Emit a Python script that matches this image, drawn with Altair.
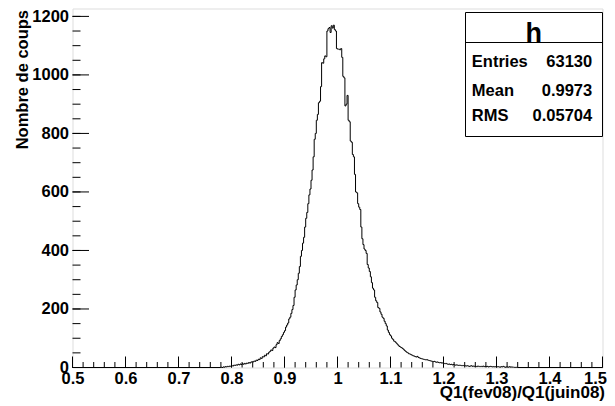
import altair as alt
import pandas as pd

# ---------------- data ----------------
bin_start = 0.78
bin_width = 0.002
counts = [
    1, 0, 2, 1, 3, 2, 4, 3, 5, 4,                 # 0.78
    6, 5, 8, 7, 9, 8, 11, 9, 12, 10,              # 0.80
    13, 11, 14, 12, 15, 14, 17, 15, 18, 20,       # 0.82
    19, 22, 21, 25, 24, 28, 27, 33, 31, 37,       # 0.84
    36, 42, 40, 47, 46, 52, 55, 60, 58, 66,       # 0.86
    70, 68, 78, 85, 82, 92, 98, 106, 112, 120,    # 0.88
    126, 138, 145, 152, 166, 172, 185, 198, 212, 240,   # 0.90
    265, 282, 300, 322, 345, 380, 400, 425, 445, 480,   # 0.92
    510, 530, 560, 590, 610, 640, 675, 720, 780, 800,   # 0.94
    845, 865, 905, 910, 960, 1042, 1040, 1055, 1065, 1062,   # 0.96
    1150, 1158, 1162, 1145, 1168, 1160, 1170, 1155, 1150, 1090,  # 0.98
    1088, 1088, 1086, 1090, 1060, 995, 990, 894, 900, 930,   # 1.00
    845, 840, 774, 770, 728, 720, 660, 600, 597, 560,   # 1.02
    548, 540, 480, 440, 420, 405, 400, 390, 352, 340,   # 1.04
    328, 310, 290, 271, 265, 240, 228, 222, 205, 202,   # 1.06
    190, 182, 172, 168, 158, 150, 142, 128, 120, 112,   # 1.08
    108, 100, 96, 90, 88, 84, 80, 76, 72, 70,     # 1.10
    68, 65, 62, 58, 55, 52, 50, 47, 46, 44,       # 1.12
    42, 40, 39, 37, 36, 38, 34, 33, 31, 30,       # 1.14
    29, 28, 27, 26, 27, 25, 24, 23, 22, 21,       # 1.16
    20, 21, 19, 18, 19, 17, 16, 17, 15, 16,       # 1.18
    14, 13, 14, 12, 11, 12, 10, 11, 9, 10,        # 1.20
    9, 8, 9, 8, 7, 8, 7, 6, 7, 6,                 # 1.22
    6, 5, 6, 5, 4, 5, 6, 4, 5, 4,                 # 1.24
    4, 3, 5, 4, 3, 4, 3, 5, 3, 4,                 # 1.26
    3, 4, 2, 3, 4, 3, 2, 3, 2, 3,                 # 1.28
    2, 3, 2, 1, 3, 2, 4, 2, 1, 2,                 # 1.30
    2, 1, 3, 1, 2, 1, 1, 0, 1, 0,                 # 1.32
]
x_range = [0.5, 1.5]
y_max = 1227
x_major = [0.5, 0.6, 0.7, 0.8, 0.9, 1.0, 1.1, 1.2, 1.3, 1.4, 1.5]
y_major = [0, 200, 400, 600, 800, 1000, 1200]
x_minor_step = 0.02
y_minor_step = 50
hist_name = "h"
stat_names = ["Entries", "Mean", "RMS"]
stat_values = ["63130", "0.9973", "0.05704"]
x_title = "Q1(fev08)/Q1(juin08)"
y_title = "Nombre de coups"

# ---------------- layout ----------------
W, H = 530, 359
FONT = "Liberation Sans"

edges = [round(bin_start + i * bin_width, 4) for i in range(len(counts) + 1)]
rows = [{"x": x_range[0], "n": 0}]
rows += [{"x": edges[i], "n": c} for i, c in enumerate(counts)]
rows += [{"x": edges[-1], "n": 0}, {"x": x_range[1], "n": 0}]
hist_df = pd.DataFrame(rows)

x_minor = [round(x_range[0] + x_minor_step * i, 3)
           for i in range(int(round((x_range[1] - x_range[0]) / x_minor_step)) + 1)]
y_minor = [y_minor_step * i for i in range(int(y_max // y_minor_step) + 1)]

xs = alt.Scale(domain=x_range, nice=False, zero=False)
ys = alt.Scale(domain=[0, y_max], nice=False, zero=True)

last_x = x_major[-1]
x_axis = alt.Axis(
    values=x_major, format=".1~f", title=x_title,
    grid=False, domain=False, ticks=False, tickSize=0,
    labelFont=FONT, labelFontSize=16.5, labelFontWeight="bold", labelColor="black",
    labelBaseline="alphabetic", labelPadding=16, labelFlush=False, labelOverlap=False,
    labelAlign={"condition": {"test": f"datum.value >= {last_x}", "value": "right"},
                "value": "center"},
    labelOffset={"condition": {"test": f"datum.value >= {last_x}", "value": 4},
                 "value": 0},
    labelBound=False,
    titleFont=FONT, titleFontSize=17, titleFontWeight="bold", titleColor="black",
    titleAlign="right", titleBaseline="alphabetic", titleX=W + 2, titleY=30,
)
y_axis = alt.Axis(
    values=y_major, format="d", title=y_title,
    grid=False, domain=False, ticks=False, tickSize=0,
    labelFont=FONT, labelFontSize=16.5, labelFontWeight="bold", labelColor="black",
    labelBaseline="middle", labelAlign="right", labelPadding=4, labelFlush=False,
    labelOverlap=False,
    titleFont=FONT, titleFontSize=16.5, titleFontWeight="bold", titleColor="black",
    titleAngle=270, titleAlign="right", titleBaseline="alphabetic",
    titleX=-45, titleY=1,
)

line = alt.Chart(hist_df).mark_line(
    interpolate="step-after", color="black", strokeWidth=1
).encode(
    x=alt.X("x:Q", scale=xs, axis=x_axis),
    y=alt.Y("n:Q", scale=ys, axis=y_axis),
)

def xticks(vals, length):
    return alt.Chart(pd.DataFrame({"x": vals})).mark_rule(
        color="black", strokeWidth=1
    ).encode(
        x=alt.X("x:Q", scale=xs),
        y=alt.value(H), y2=alt.value(H - length),
    )

def yticks(vals, length):
    return alt.Chart(pd.DataFrame({"n": vals})).mark_rule(
        color="black", strokeWidth=1
    ).encode(
        y=alt.Y("n:Q", scale=ys),
        x=alt.value(0), x2=alt.value(length),
    )

one = pd.DataFrame({"k": [0]})
box = alt.Chart(one).mark_rect(fill="white", stroke="black", strokeWidth=1).encode(
    x=alt.value(393), x2=alt.value(530), y=alt.value(4), y2=alt.value(128)
)
divider = alt.Chart(one).mark_rule(color="black", strokeWidth=1).encode(
    x=alt.value(393), x2=alt.value(530), y=alt.value(34)
)
title_txt = alt.Chart(pd.DataFrame({"t": [hist_name]})).mark_text(
    font=FONT, fontSize=27, fontWeight="bold", align="center", baseline="alphabetic",
    color="black"
).encode(x=alt.value(461.3), y=alt.value(33), text="t:N")

row_y = [58, 87.5, 112]
stat_layers = []
for name, val, yy in zip(stat_names, stat_values, row_y):
    d = pd.DataFrame({"name": [name], "val": [val]})
    stat_layers.append(alt.Chart(d).mark_text(
        font=FONT, fontSize=16.5, fontWeight="bold", align="left",
        baseline="alphabetic", color="black"
    ).encode(x=alt.value(399.3), y=alt.value(yy), text="name:N"))
    stat_layers.append(alt.Chart(d).mark_text(
        font=FONT, fontSize=16.5, fontWeight="bold", align="right",
        baseline="alphabetic", color="black"
    ).encode(x=alt.value(519.7), y=alt.value(yy), text="val:N"))

chart = alt.layer(
    line,
    xticks(x_minor, 5.5), xticks(x_major, 11),
    yticks(y_minor, 8), yticks(y_major, 16.5),
    box, divider, title_txt, *stat_layers,
).properties(
    width=W, height=H,
    autosize=alt.AutoSizeParams(type="none"),
    padding={"left": 64.5, "top": 0.5, "right": 4, "bottom": 36},
).configure_view(
    stroke="black", strokeWidth=1
).configure(background="white")

chart.save("out.html", embed_options={"renderer": "svg", "actions": False})
